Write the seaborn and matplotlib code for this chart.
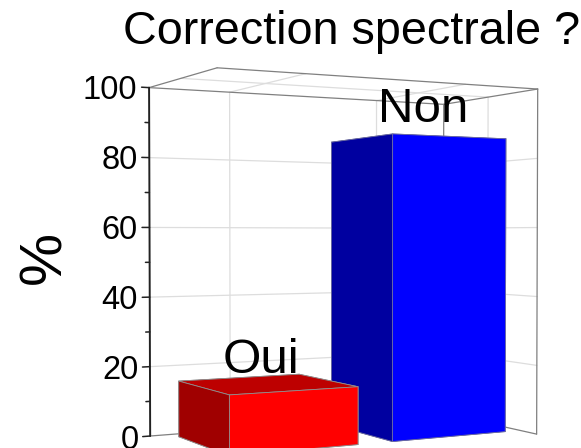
import matplotlib
matplotlib.use('Agg')
import matplotlib.pyplot as plt
import seaborn as sns

sns.set_theme(style='white')
plt.rcParams['font.family'] = ['Liberation Sans', 'DejaVu Sans']

categories = ['Oui', 'Non']
values = [16, 86]
major_ticks = [0, 20, 40, 60, 80, 100]
minor_ticks = [10, 30, 50, 70, 90]

# one colour per bar face: -z, +z, -y, +y, -x, +x
red_faces = ['#a00000', '#bd0000', '#ff0000', '#a00000', '#a00000', '#ff0000']
blue_faces = ['#0000a0', '#0000bd', '#0000ff', '#0000a0', '#0000a0', '#0000ff']

X0, X1 = -0.5, 1.5
Y0, Y1 = 0, 1
Z0, Z1 = 0, 100
BAR_DX, BAR_DY = 0.77, 0.73
FRAME = '#808080'
GRID = '#dddddd'

fig = plt.figure(figsize=(5.81, 4.48), dpi=100)
ax = fig.add_axes([85 / 581, -73.5 / 448, 505 / 581, 505 / 448], projection='3d', computed_zorder=False)
ax.set_xlim(X0, X1, view_margin=0)
ax.set_ylim(Y0, Y1, view_margin=0)
ax.set_zlim(Z0, Z1, view_margin=0)
ax.set_box_aspect((1, 0.5, 1))
ax.set_proj_type('persp', focal_length=0.475)
ax.view_init(elev=1.2, azim=-118.4)
ax.set_axis_off()


def line(xs, ys, zs, color=GRID, lw=0.9):
    ax.plot(xs, ys, zs, color=color, lw=lw, zorder=1)


# walls and ceiling grid
for z in major_ticks[1:-1]:
    line([X0, X1], [Y1, Y1], [z, z])
    line([X1, X1], [Y0, Y1], [z, z])
for i in range(len(categories)):
    line([i, i], [Y1, Y1], [Z0, Z1])
    line([i, i], [Y0, Y1], [Z1, Z1])
line([X1, X1], [0.5, 0.5], [Z0, Z1])
line([X0, X1], [0.5, 0.5], [Z1, Z1])

# box outline
line([X0, X1], [Y1, Y1], [Z1, Z1], FRAME)
line([X1, X1], [Y0, Y1], [Z1, Z1], FRAME)
line([X0, X0], [Y0, Y1], [Z1, Z1], FRAME)
line([X0, X1], [Y0, Y0], [Z1, Z1], FRAME)
line([X1, X1], [Y0, Y0], [Z0, Z1], FRAME)
line([X1, X1], [Y1, Y1], [Z0, Z1], FRAME)
line([X0, X1], [Y1, Y1], [Z0, Z0], FRAME)
line([X1, X1], [Y0, Y1], [Z0, Z0], FRAME)

# value axis on the left corner
line([X0, X0], [Y1, Y1], [Z0, Z1], '#222222', 1.4)
for z in major_ticks:
    line([X0 - 0.045, X0], [Y1, Y1], [z, z], '#222222', 1.1)
    ax.text(X0 - 0.07, Y1, z, str(z), ha='right', va='center_baseline', fontsize=23.5, color='black', zorder=5)
for z in minor_ticks:
    line([X0 - 0.025, X0], [Y1, Y1], [z, z], '#222222', 1.1)

# bars, far one first
ax.bar3d(0.625, 0.165, 0, BAR_DX, BAR_DY, values[1], color=blue_faces, shade=False,
         edgecolor='#7070a0', linewidth=0.6, zorder=2)
ax.bar3d(-0.365, 0.165, 0, BAR_DX, BAR_DY, values[0], color=red_faces, shade=False,
         edgecolor='#909090', linewidth=0.6, zorder=3)

ax.text(-0.03, 0.5, values[0] + 0.5, categories[0], ha='center', va='bottom', fontsize=35.5, color='black', zorder=6)
ax.text(1.03, 0.5, values[1] + 2.5, categories[1], ha='center', va='bottom', fontsize=35.5, color='black', zorder=6)

fig.text(352 / 581, 1 - 32 / 448, 'Correction spectrale ?', ha='center', va='center', fontsize=33.7, color='black')
fig.text(45 / 581, 1 - 257 / 448, '%', rotation=90, ha='center', va='center', fontsize=43, color='black')

fig.savefig('out.png', dpi=100)
